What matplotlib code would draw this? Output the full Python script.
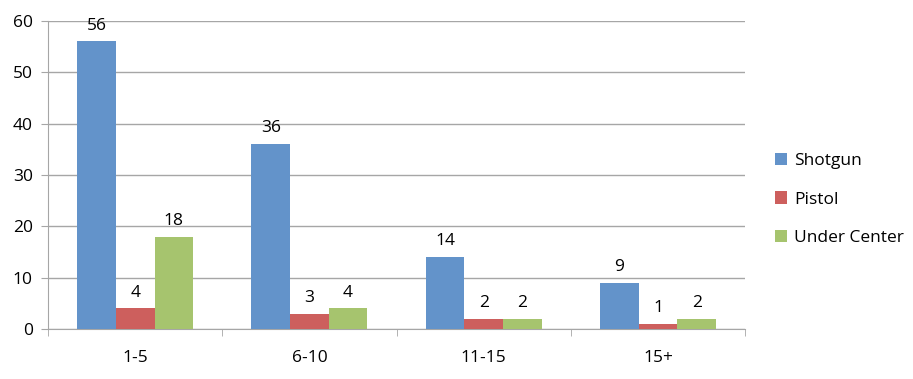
import matplotlib.pyplot as plt
import numpy as np

categories = ['1-5', '6-10', '11-15', '15+']
shotgun = [56, 36, 14, 9]
pistol = [4, 3, 2, 1]
under_center = [18, 4, 2, 2]

series = [('Shotgun', shotgun, '#6393CA'),
          ('Pistol', pistol, '#CD5F5D'),
          ('Under Center', under_center, '#A6C46E')]

plt.rcParams['font.family'] = ['Open Sans', 'DejaVu Sans']

fig = plt.figure(figsize=(9.13, 3.79), dpi=100)
ax = fig.add_axes([0.0526, 0.132, 0.7635, 0.813])

x = np.arange(len(categories))
w = 0.222
for i, (name, vals, col) in enumerate(series):
    pos = x + (i - 1) * w
    bars = ax.bar(pos, vals, w, color=col, label=name, zorder=3)
    for b, v in zip(bars, vals):
        ax.text(b.get_x() + b.get_width() / 2, v + 1.5, str(v),
                ha='center', va='bottom', fontsize=12.5)

ax.set_xlim(-0.5, len(categories) - 0.5)
ax.set_ylim(0, 60)
ax.set_yticks(range(0, 61, 10))
ax.yaxis.grid(True, color='#A6A6A6', linewidth=1, zorder=0)
ax.set_xticks(x)
ax.set_xticklabels(categories, fontsize=12.5)
ax.set_xticks(np.arange(-0.5, len(categories)), minor=True)
ax.tick_params(axis='x', which='major', length=0, pad=15)
ax.tick_params(axis='x', which='minor', length=5, color='#A6A6A6')
ax.tick_params(axis='y', length=5, color='#A6A6A6', labelsize=12.5, pad=6)

for s in ['top', 'right']:
    ax.spines[s].set_visible(False)
for s in ['left', 'bottom']:
    ax.spines[s].set_color('#A6A6A6')

ax.legend(loc='center left', bbox_to_anchor=(1.02, 0.42), frameon=False,
          fontsize=12.5, handlelength=0.7, handleheight=0.7,
          handletextpad=0.4, labelspacing=1.3)

fig.savefig('out.png', dpi=100)
